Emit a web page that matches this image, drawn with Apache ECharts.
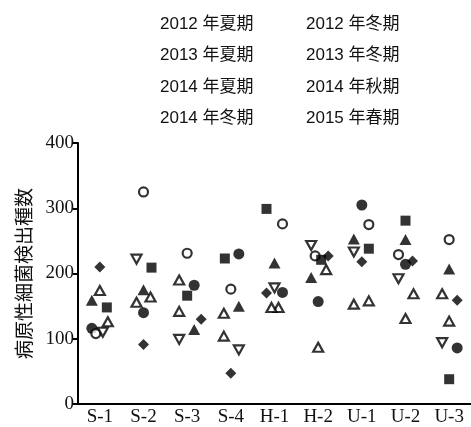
<!DOCTYPE html>
<html>
<head>
<meta charset="utf-8">
<script src="https://cdn.jsdelivr.net/npm/echarts@6/dist/echarts.min.js"></script>
<style>html,body{margin:0;padding:0;background:#fff}#c{width:471px;height:427px}</style>
</head>
<body>
<div id="c"></div>
<script>
const categories = ['S-1','S-2','S-3','S-4','H-1','H-2','U-1','U-2','U-3'];
const yTicks = [0, 100, 200, 300, 400];

const s2012Summer = [116, 140, 182, 230, 171, 157, 305, 214, 86];
const s2012Winter = [108, 325, 231, 176, 276, 227, 275, 229, 252];
const s2013Summer = [159, 175, 114, 150, 216, 194, 253, 252, 207];
const s2013Winter = [174, 164, 190, 139, 148, 206, 158, 169, 169];
const s2014Summer = [148, 209, 166, 223, 299, 221, 238, 281, 38];
const s2014Autumn = [110, 222, 99, 83, 178, 243, 233, 192, 94];
const s2014Winter = [210, 91, 130, 47, 170, 227, 218, 219, 159];
const s2015Spring = [126, 156, 142, 104, 148, 87, 153, 131, 127];

// horizontal dodge (px) used in the original to keep markers from overlapping
const dodge2012Summer = [-8, 0, 7, 8, 8, 0, 0, 0, 8];
const dodge2012Winter = [-4, 0, 0, 0, 8, -3, 7, -7, 0];
const dodge2013Summer = [-8, 0, 7, 8, 0, -7, -8, 0, 0];
const dodge2013Winter = [0, 7, -8, -7, 4, 8, 7, 8, -7];
const dodge2014Summer = [7, 8, 0, -6, -8, 3, 7, 0, 0];
const dodge2014Autumn = [3, -7, -8, 8, 0, -7, -8, -7, -7];
const dodge2014Winter = [0, 0, 14, 0, -8, 10, 0, 7, 8];
const dodge2015Spring = [8, -7, -8, -7, -3, 0, -8, 0, 0];

const seriesDefs = [
  {name:'2012 年夏期', values:s2012Summer, dodge:dodge2012Summer, symbol:'circle', size:11, filled:true},
  {name:'2012 年冬期', values:s2012Winter, dodge:dodge2012Winter, symbol:'circle', size:9, filled:false},
  {name:'2013 年夏期', values:s2013Summer, dodge:dodge2013Summer, symbol:'triangle', size:[12,11], filled:true},
  {name:'2013 年冬期', values:s2013Winter, dodge:dodge2013Winter, symbol:'triangle', size:[10,9], filled:false},
  {name:'2014 年夏期', values:s2014Summer, dodge:dodge2014Summer, symbol:'rect', size:10, filled:true},
  {name:'2014 年秋期', values:s2014Autumn, dodge:dodge2014Autumn, symbol:'triangle', size:[10,9], filled:false, rotate:180},
  {name:'2014 年冬期', values:s2014Winter, dodge:dodge2014Winter, symbol:'diamond', size:[11,11], filled:true},
  {name:'2015 年春期', values:s2015Spring, dodge:dodge2015Spring, symbol:'triangle', size:[10,9], filled:false}
];

const series = seriesDefs.map(d => ({
  type:'scatter',
  name:d.name,
  symbol:d.symbol,
  symbolSize:d.size,
  symbolRotate:d.rotate || 0,
  itemStyle: d.filled ? {color:'#000', borderWidth:0} : {color:'#fff', borderColor:'#000', borderWidth:2.2},
  emphasis:{disabled:true},
  data:d.values.map((v,i)=>({value:v, symbolOffset:[d.dodge[i],0]}))
}));

const legendText = {fontFamily:'Liberation Sans, Arial, Noto Sans CJK JP, sans-serif', fontSize:17, color:'#111'};
const chart = echarts.init(document.getElementById('c'), null, {renderer:'canvas'});
chart.setOption({
  animation:false,
  backgroundColor:'#fff',
  legend:[
    {data:[seriesDefs[0].name, seriesDefs[2].name, seriesDefs[4].name, seriesDefs[6].name],
     orient:'vertical', left:150, top:10, itemWidth:0, itemHeight:0, itemGap:13.5, selectedMode:false,
     textStyle:Object.assign({lineHeight:18}, legendText)},
    {data:[seriesDefs[1].name, seriesDefs[3].name, seriesDefs[5].name, seriesDefs[7].name],
     orient:'vertical', left:295, top:10, itemWidth:0, itemHeight:0, itemGap:13.5, selectedMode:false,
     textStyle:Object.assign({lineHeight:18}, legendText)}
  ],
  grid:{left:78, top:143, width:395, height:262, containLabel:false},
  xAxis:{
    type:'category', data:categories, boundaryGap:true,
    axisLine:{lineStyle:{color:'#000', width:2}},
    axisTick:{inside:true, length:5, alignWithLabel:true, lineStyle:{color:'#000', width:2}},
    axisLabel:{margin:4, color:'#111', fontFamily:'Liberation Serif, serif', fontSize:19},
    splitLine:{show:false}
  },
  yAxis:{
    type:'value', min:yTicks[0], max:yTicks[yTicks.length-1], interval:100,
    name:'病原性細菌検出種数', nameLocation:'middle', nameGap:45, nameRotate:90,
    nameTextStyle:{fontFamily:'Noto Sans CJK JP', fontSize:19, color:'#111'},
    axisLine:{show:true, lineStyle:{color:'#000', width:2}},
    axisTick:{show:true, inside:false, length:5, lineStyle:{color:'#000', width:2}},
    axisLabel:{margin:4, color:'#111', fontFamily:'Liberation Serif, serif', fontSize:19},
    splitLine:{show:false}
  },
  series:series
});
</script>
</body>
</html>
